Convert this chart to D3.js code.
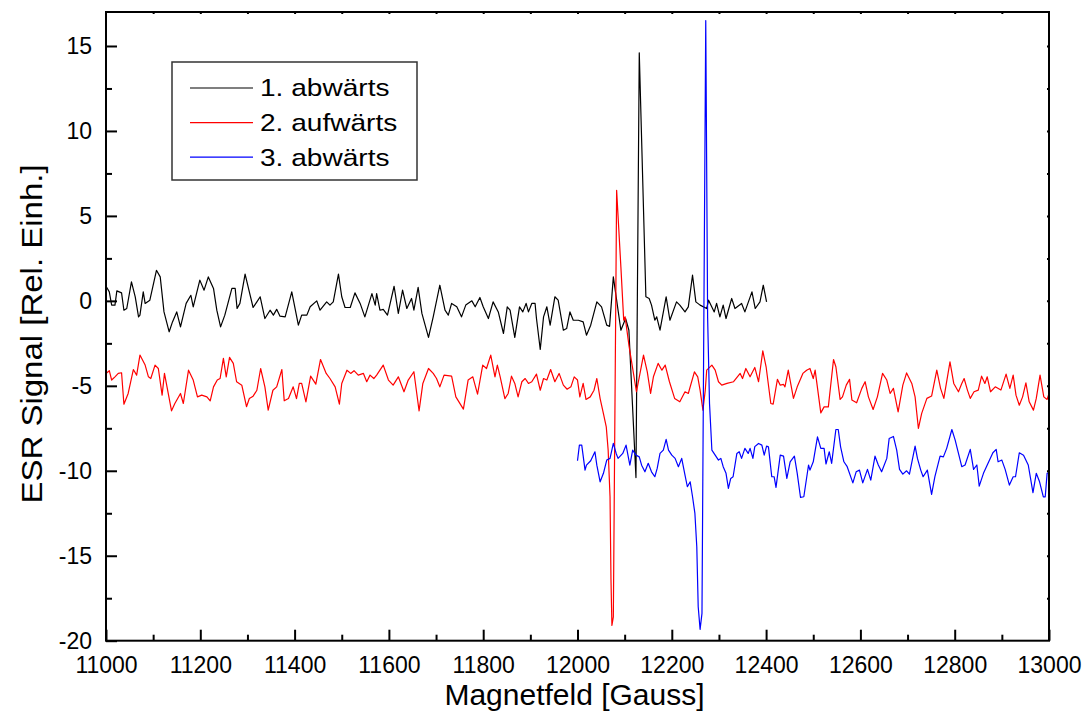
<!DOCTYPE html>
<html>
<head>
<meta charset="utf-8">
<script src="https://cdn.jsdelivr.net/npm/d3@7"></script>
<style>
  body { margin: 0; background: #fff; }
  text { font-family: Arial, "Liberation Sans", sans-serif; fill: #000; }
</style>
</head>
<body>
<script>
// Series: [field in Gauss, signal]
const run1Down = [
  [11001,0.82],[11007,0.53],[11012,-0.25],[11019,-0.25],[11023,0.59],[11033,0.47],[11038,-0.55],[11044,-0.45],[11054,1.12],[11062,0.24],
  [11069,-0.94],[11072,-0.84],[11079,0.53],[11083,-0.15],[11093,0.04],[11107,1.8],[11115,1.41],[11123,-0.65],[11134,-1.82],[11141,-1.24],
  [11150,-0.65],[11158,-1.53],[11170,-0.15],[11180,0.33],[11185,-0.35],[11199,1.22],[11208,0.63],[11217,1.41],[11228,0.73],[11235,-0.55],
  [11243,-1.53],[11252,-0.84],[11267,0.73],[11274,0.73],[11278,-0.45],[11284,-0.15],[11295,1.57],[11304,0.53],[11312,-0.39],[11320,-0.06],
  [11327,0.24],[11337,-1.04],[11348,-0.55],[11355,-0.84],[11362,-0.5],[11369,-0.9],[11380,-0.94],[11394,0.53],[11408,-1.43],[11415,-0.84],
  [11426,-0.84],[11433,-0.35],[11447,0],[11454,-0.55],[11468,-0.06],[11475,-0.25],[11482,-0.06],[11493,1.57],[11500,0.24],[11507,-0.39],
  [11518,-0.39],[11528,0.47],[11539,-0.15],[11549,-0.94],[11564,0.43],[11571,-0.25],[11574,0.43],[11581,-0.55],[11588,-0.5],[11597,-0.84],
  [11611,0.86],[11620,-0.74],[11629,0.63],[11638,-0.45],[11648,0.14],[11653,-0.55],[11662,0.79],[11670,-0.74],[11684,-2.15],[11694,-0.94],
  [11708,0.92],[11719,-0.55],[11726,-0.84],[11733,-0.15],[11744,-0.35],[11754,-0.94],[11763,-0.25],[11776,0],[11783,-0.35],[11793,0.2],
  [11800,-0.35],[11811,-1.04],[11821,-0.06],[11832,-0.65],[11843,-1.92],[11851,-0.35],[11857,-0.55],[11867,-2.15],[11877,-0.35],[11884,-0.65],
  [11891,-0.15],[11896,-0.65],[11903,-0.15],[11910,-0.15],[11913,-1.04],[11921,-2.86],[11928,-0.94],[11935,-0.35],[11942,-1.43],[11952,0.24],
  [11959,0.04],[11970,-1.73],[11977,-1.63],[11984,-0.65],[11991,-1.14],[12002,-1.14],[12012,-1.24],[12019,-2.02],[12028,-1.43],[12041,-0.06],
  [12051,-0.35],[12062,-1.43],[12068,-1.5],[12076,1.41],[12083,0.04],[12092,-1.73],[12102,-1.04],[12109,-1.73],[12124,-10.4],[12131,14.6],
  [12145,0.24],[12152,0.14],[12157,-0.25],[12164,-1.14],[12168,-0.94],[12175,-1.72],[12188,0.24],[12196,-1.14],[12210,-0.06],[12217,-0.25],
  [12228,-0.65],[12235,-0.35],[12244,1.51],[12251,-0.06],[12260,-0.25],[12274,-0.45],[12278,0.04],[12290,-0.65],[12295,-0.15],[12302,-0.94],
  [12309,-0.25],[12315,-1.04],[12327,0.14],[12334,-0.45],[12348,-0.15],[12355,-0.65],[12370,0.53],[12377,-0.45],[12387,-0.06],[12394,0.92],
  [12401,-0.06]
];

const run2Up = [
  [11000,-4.27],[11007,-4.11],[11012,-4.66],[11019,-4.47],[11026,-4.27],[11033,-4.23],[11038,-6.08],[11047,-5.45],[11058,-4.04],[11065,-4.37],
  [11072,-3.19],[11083,-3.78],[11090,-4.47],[11095,-4.57],[11104,-3.78],[11111,-3.98],[11119,-5.55],[11124,-4.27],[11132,-5.45],[11139,-6.47],
  [11146,-6.04],[11158,-5.45],[11164,-6.04],[11175,-4.08],[11185,-4.66],[11194,-5.65],[11203,-5.55],[11214,-5.65],[11221,-5.88],[11228,-5.06],
  [11236,-4.66],[11242,-4.57],[11249,-3.39],[11255,-4.47],[11262,-3.33],[11270,-3.68],[11277,-4.76],[11288,-4.96],[11298,-6.23],[11304,-5.75],
  [11312,-5.61],[11320,-5.26],[11328,-3.98],[11337,-5.06],[11344,-6.43],[11354,-5.26],[11362,-5.06],[11373,-4.04],[11378,-5.88],[11387,-5.75],
  [11397,-5.06],[11404,-5.75],[11410,-4.86],[11415,-4.86],[11424,-5.94],[11434,-4.43],[11445,-4.9],[11455,-3.45],[11467,-4.27],[11475,-4.57],
  [11486,-5.06],[11495,-6.08],[11500,-4.86],[11511,-4.08],[11519,-4.27],[11526,-4.11],[11535,-4.37],[11546,-4.27],[11553,-4.76],[11560,-4.37],
  [11568,-4.57],[11574,-4.37],[11588,-3.78],[11599,-4.66],[11609,-4.96],[11620,-4.47],[11632,-5.35],[11641,-4.66],[11653,-4.17],[11664,-6.47],
  [11672,-4.86],[11684,-3.98],[11694,-4.27],[11701,-4.57],[11708,-5.06],[11717,-4.37],[11733,-4.43],[11742,-5.65],[11758,-6.37],[11768,-4.66],
  [11778,-4.47],[11788,-5.49],[11799,-3.78],[11807,-3.98],[11816,-3.19],[11825,-4.47],[11830,-3.78],[11836,-4.47],[11846,-5.75],[11853,-5.45],
  [11860,-4.43],[11867,-4.86],[11874,-5.65],[11882,-4.76],[11889,-4.57],[11896,-4.86],[11903,-4.76],[11913,-4.31],[11921,-5.26],[11928,-4.57],
  [11935,-4.66],[11943,-4.04],[11952,-4.76],[11961,-4.27],[11970,-4.96],[11978,-5.2],[11986,-5.06],[11993,-4.47],[12000,-4.66],[12005,-5.65],
  [12012,-4.86],[12018,-5.8],[12027,-5.65],[12035,-5.26],[12041,-4.57],[12048,-5.75],[12055,-6.63],[12061,-7.41],[12065,-8.78],[12069,-11.53],
  [12071,-16.4],[12073,-19.1],[12076,-18.6],[12083,6.51],[12092,2.0],[12098,-1.14],[12101,-0.94],[12109,-2.6],[12125,-5.35],[12140,-3.19],
  [12148,-4.18],[12155,-5.45],[12161,-4.47],[12171,-3.68],[12179,-4.08],[12186,-3.78],[12195,-4.76],[12206,-5.74],[12217,-5.94],[12228,-5.35],
  [12235,-5.45],[12248,-4.18],[12255,-4.47],[12260,-5.25],[12266,-6.43],[12271,-5.25],[12274,-4.08],[12285,-3.78],[12292,-4.08],[12299,-4.76],
  [12306,-4.96],[12317,-4.86],[12331,-4.76],[12345,-4.27],[12350,-4.57],[12357,-3.98],[12366,-4.47],[12376,-3.92],[12384,-4.76],[12393,-2.94],
  [12400,-3.88],[12410,-6.04],[12415,-6.08],[12424,-4.62],[12430,-4.96],[12437,-4.92],[12440,-5.06],[12447,-4.08],[12458,-5.74],[12466,-5.06],
  [12478,-4.27],[12486,-4.08],[12493,-3.98],[12500,-4.57],[12504,-4.08],[12516,-6.59],[12523,-6.24],[12532,-6.24],[12543,-3.45],[12548,-3.88],
  [12557,-5.8],[12562,-5.65],[12570,-4.96],[12577,-4.62],[12582,-5.84],[12592,-6.0],[12603,-5.15],[12610,-4.76],[12617,-5.65],[12627,-6.39],
  [12636,-5.65],[12647,-4.27],[12656,-4.66],[12663,-5.45],[12670,-5.15],[12680,-6.53],[12690,-4.96],[12698,-4.24],[12709,-4.86],[12716,-5.65],
  [12723,-7.51],[12730,-6.62],[12741,-5.74],[12751,-5.6],[12762,-4.08],[12770,-5.15],[12777,-5.74],[12790,-3.59],[12798,-4.86],[12808,-5.35],
  [12815,-4.86],[12820,-4.57],[12827,-5.25],[12833,-5.74],[12841,-5.35],[12850,-5.25],[12857,-4.43],[12864,-4.86],[12869,-4.47],[12876,-5.35],
  [12886,-5.06],[12898,-5.25],[12909,-4.31],[12917,-5.15],[12924,-4.37],[12930,-5.55],[12937,-6.14],[12944,-5.65],[12951,-4.82],[12958,-5.94],
  [12967,-6.43],[12973,-5.74],[12981,-4.37],[12989,-5.65],[12996,-5.8],[13000,-5.45]
];

const run3Down = [
  [12000,-9.41],[12004,-8.49],[12009,-8.49],[12016,-9.96],[12019,-9.67],[12028,-9.41],[12037,-8.88],[12041,-9.67],[12048,-10.65],[12055,-10.15],
  [12062,-9.37],[12069,-9.27],[12076,-8.39],[12082,-8.98],[12086,-9.27],[12096,-8.98],[12103,-8.49],[12111,-9.67],[12117,-8.78],[12124,-9.08],
  [12131,-9.18],[12136,-9.67],[12143,-10.06],[12150,-9.56],[12157,-10.06],[12164,-10.35],[12169,-9.86],[12175,-8.98],[12182,-8.78],[12188,-8.15],
  [12193,-8.78],[12200,-9.08],[12207,-9.27],[12214,-9.76],[12221,-9.27],[12228,-10.25],[12233,-10.94],[12239,-10.65],[12244,-11.53],[12249,-12.51],
  [12253,-14.47],[12256,-18.0],[12260,-19.33],[12264,-18.39],[12272,16.5],[12276,-1.0],[12280,-6.04],[12285,-8.78],[12292,-9.08],[12299,-9.37],
  [12304,-9.27],[12309,-9.76],[12315,-10.15],[12320,-11.04],[12325,-10.45],[12330,-10.35],[12338,-8.98],[12343,-8.88],[12348,-9.27],[12355,-8.68],
  [12362,-8.98],[12366,-8.68],[12372,-9.27],[12376,-8.58],[12384,-8.39],[12391,-8.49],[12396,-9.08],[12401,-8.55],[12405,-8.59],[12412,-10.35],
  [12417,-10.35],[12421,-10.98],[12430,-9.08],[12437,-9.14],[12444,-10.45],[12451,-9.47],[12460,-9.14],[12466,-10.15],[12473,-11.57],[12480,-11.53],
  [12490,-9.66],[12493,-9.96],[12500,-9.47],[12509,-8.0],[12516,-8.68],[12523,-8.68],[12527,-9.6],[12534,-8.88],[12539,-9.56],[12548,-7.57],
  [12553,-7.57],[12558,-8.59],[12565,-9.47],[12572,-9.76],[12584,-10.71],[12591,-10.06],[12598,-9.96],[12605,-10.71],[12615,-9.92],[12622,-10.55],
  [12631,-9.14],[12638,-9.66],[12645,-10.06],[12656,-9.27],[12661,-8.1],[12670,-7.98],[12677,-8.78],[12683,-9.92],[12690,-10.2],[12698,-10.0],
  [12704,-10.2],[12716,-8.55],[12721,-9.27],[12728,-9.96],[12733,-10.35],[12742,-9.96],[12751,-11.39],[12758,-10.35],[12769,-9.14],[12776,-9.18],
  [12783,-8.68],[12794,-7.57],[12801,-8.2],[12808,-8.98],[12815,-9.76],[12822,-9.66],[12833,-8.74],[12840,-9.92],[12847,-9.66],[12852,-10.9],
  [12861,-10.15],[12869,-9.66],[12881,-8.94],[12888,-8.74],[12892,-9.47],[12900,-9.37],[12907,-9.92],[12916,-10.84],[12924,-10.35],[12929,-10.35],
  [12937,-8.94],[12946,-9.08],[12956,-9.66],[12966,-11.29],[12973,-10.15],[12980,-10.65],[12988,-11.53],[12992,-11.53],[12996,-10.15],[13000,-10.1]
];

const seriesNames = ["1. abwärts", "2. aufwärts", "3. abwärts"];
const seriesColors = ["#000000", "#ff0000", "#0000ff"];
const xTicks = [11000, 11200, 11400, 11600, 11800, 12000, 12200, 12400, 12600, 12800, 13000];
const yTicks = [-20, -15, -10, -5, 0, 5, 10, 15];

const width = 1083, height = 716;
const plotLeft = 106, plotRight = 1049, plotTop = 12, plotBottom = 640.7;

const svg = d3.select("body").append("svg")
    .attr("width", width)
    .attr("height", height);

svg.append("rect").attr("width", width).attr("height", height).attr("fill", "#fff");

const x = d3.scaleLinear().domain([11000, 13000]).range([plotLeft, plotRight]);
const y = d3.scaleLinear().domain([-20, 17]).range([plotBottom, plotTop]);

// data lines
const line = d3.line().x(d => x(d[0])).y(d => y(d[1]));
[run1Down, run2Up, run3Down].forEach(function(data, i) {
    svg.append("path")
        .datum(data)
        .attr("fill", "none")
        .attr("stroke", seriesColors[i])
        .attr("stroke-width", 1.2)
        .attr("stroke-linejoin", "round")
        .attr("d", line);
});

// minor ticks
const xMinor = d3.range(11100, 13000, 200);
const yMinor = d3.range(-17.5, 17, 5);
const plainNum = d => String(d);   // plain hyphen for negatives, like the original

// bottom axis, ticks pointing inward
const xAxis = svg.append("g")
    .attr("transform", "translate(0," + plotBottom + ")")
    .call(d3.axisBottom(x).tickValues(xTicks).tickSize(-11).tickPadding(16).tickFormat(plainNum));
xAxis.append("g").call(d3.axisBottom(x).tickValues(xMinor).tickSize(-6).tickFormat(""));

// left axis
const yAxis = svg.append("g")
    .attr("transform", "translate(" + plotLeft + ",0)")
    .call(d3.axisLeft(y).tickValues(yTicks).tickSize(-11).tickPadding(14).tickFormat(plainNum));
yAxis.append("g").call(d3.axisLeft(y).tickValues(yMinor).tickSize(-6).tickFormat(""));

// tiny mirror ticks on top and right
svg.append("g").attr("transform", "translate(0," + plotTop + ")")
    .call(d3.axisTop(x).tickValues(d3.range(11100, 13000, 100)).tickSize(-2).tickFormat(""));
svg.append("g").attr("transform", "translate(" + plotRight + ",0)")
    .call(d3.axisRight(y).tickValues(d3.range(-17.5, 17, 2.5)).tickSize(-2).tickFormat(""));

svg.selectAll(".domain").remove();
svg.selectAll(".tick line").attr("stroke", "#000").attr("stroke-width", 2);
svg.selectAll(".tick text").attr("font-size", 23).attr("font-family", "Arial, 'Liberation Sans', sans-serif");

// frame
svg.append("rect")
    .attr("x", plotLeft).attr("y", plotTop)
    .attr("width", plotRight - plotLeft).attr("height", plotBottom - plotTop)
    .attr("fill", "none").attr("stroke", "#000").attr("stroke-width", 2);

// axis titles
svg.append("text")
    .attr("x", (plotLeft + plotRight) / 2 - 3)
    .attr("y", 705)
    .attr("text-anchor", "middle")
    .attr("font-size", 30)
    .text("Magnetfeld [Gauss]");

svg.append("text")
    .attr("transform", "translate(42,334) rotate(-90) scale(1.1,1)")
    .attr("text-anchor", "middle")
    .attr("font-size", 30)
    .text("ESR Signal [Rel. Einh.]");

// legend
const legend = svg.append("g").attr("transform", "translate(172,62)");
legend.append("rect")
    .attr("width", 245).attr("height", 118)
    .attr("fill", "#fff").attr("stroke", "#333").attr("stroke-width", 1.5);
seriesNames.forEach(function(name, i) {
    const ly = 26 + i * 34.6;
    legend.append("line")
        .attr("x1", 18).attr("x2", 81)
        .attr("y1", ly).attr("y2", ly)
        .attr("stroke", seriesColors[i]).attr("stroke-width", 1.2);
    legend.append("text")
        .attr("transform", "translate(88," + ly + ") scale(1.17,1)")
        .attr("dy", "0.35em")
        .attr("font-size", 24)
        .text(name);
});
</script>
</body>
</html>
